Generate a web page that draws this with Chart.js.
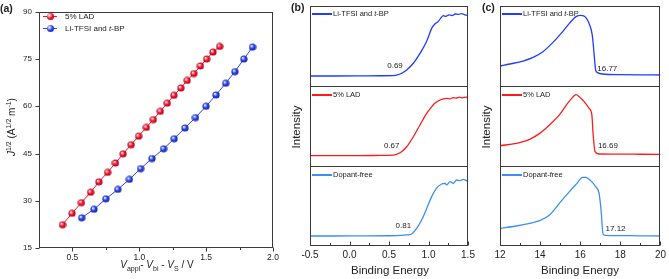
<!DOCTYPE html>
<html><head><meta charset="utf-8">
<script src="https://cdn.jsdelivr.net/npm/chart.js@4.4.1/dist/chart.umd.min.js"></script>
<style>
html,body{margin:0;padding:0;background:#fff;}
body{width:669px;height:279px;position:relative;overflow:hidden;font-family:'Liberation Sans',Arial,sans-serif;color:#222;}
canvas{position:absolute;top:0;}
.t{position:absolute;white-space:nowrap;line-height:1;}
.c{transform:translate(-50%,-50%);}
.r{transform:translate(-50%,-50%) rotate(-90deg);}
.lab{font-weight:bold;font-size:10.5px;}
.ttl{font-size:11.5px;}
.leg{font-size:7.5px;transform:translateY(-50%);}
.ln{position:absolute;height:1.5px;}
.mk{position:absolute;width:7px;height:7px;border-radius:50%;}
sup,sub{font-size:70%;line-height:0;}
</style></head><body>
<canvas id="ca" width="290" height="279" style="left:0"></canvas>
<canvas id="cb" width="190" height="279" style="left:290px"></canvas>
<canvas id="cc" width="189" height="279" style="left:480px"></canvas>

<div class="t lab" style="left:0;top:3px">(a)</div>
<div class="t lab" style="left:291px;top:2px">(b)</div>
<div class="t lab" style="left:482px;top:2px">(c)</div>

<div class="t r" style="left:12px;top:127px;font-size:10px"><i>J</i><sup>1/2</sup> (A<sup>1/2</sup> m<sup>-1</sup>)</div>
<div class="t c" style="left:157px;top:265px;font-size:10px"><i>V</i><sub>appl</sub>- <i>V</i><sub>bi</sub> - <i>V</i><sub>S</sub> / V</div>
<div class="t r ttl" style="left:297px;top:127px">Intensity</div>
<div class="t r ttl" style="left:487px;top:127px">Intensity</div>
<div class="t c ttl" style="left:390px;top:271px">Binding Energy</div>
<div class="t c ttl" style="left:580px;top:271px">Binding Energy</div>

<!-- legend panel a -->
<div class="ln" style="left:43px;top:16px;width:14px;height:1px;background:#f5142c"></div>
<div class="mk" style="left:47px;top:13px;background:radial-gradient(circle at 35% 35%,#fff 0,#f5142c 45%,#a0001a 100%)"></div>
<div class="t leg" style="left:65px;top:17px;font-size:8px">5% LAD</div>
<div class="ln" style="left:43px;top:28px;width:14px;height:1px;background:#2b44f0"></div>
<div class="mk" style="left:47px;top:25px;background:radial-gradient(circle at 35% 35%,#fff 0,#2b44f0 45%,#101e90 100%)"></div>
<div class="t leg" style="left:65px;top:29px;font-size:8px">Li-TFSI and <i>t</i>-BP</div>

<!-- legend panel b -->
<div class="ln" style="left:312px;top:13px;width:20px;background:#1f3cff"></div>
<div class="t leg" style="left:333px;top:14px">Li-TFSI and <i>t</i>-BP</div>
<div class="ln" style="left:312px;top:94px;width:20px;background:#ff1a1a"></div>
<div class="t leg" style="left:333px;top:95px">5% LAD</div>
<div class="ln" style="left:312px;top:174px;width:20px;background:#3b8ff5"></div>
<div class="t leg" style="left:333px;top:175px">Dopant-free</div>

<!-- legend panel c -->
<div class="ln" style="left:502px;top:13px;width:20px;background:#1f3cff"></div>
<div class="t leg" style="left:523px;top:14px">Li-TFSI and <i>t</i>-BP</div>
<div class="ln" style="left:502px;top:94px;width:20px;background:#ff1a1a"></div>
<div class="t leg" style="left:523px;top:95px">5% LAD</div>
<div class="ln" style="left:502px;top:174px;width:20px;background:#3b8ff5"></div>
<div class="t leg" style="left:523px;top:175px">Dopant-free</div>

<script>
// ---------- Panel (a): J^1/2 vs V ----------
const aV_LAD  = [0.426,0.497,0.567,0.636,0.698,0.763,0.822,0.879,0.939,0.995,1.053,1.105,1.157,1.209,1.259,1.311,1.358,1.408,1.457,1.504,1.551,1.601];
const aJ_LAD  = [22.4,26.0,29.4,32.7,36.0,39.0,42.0,44.9,47.8,50.5,53.3,55.8,58.4,61.0,63.5,65.8,68.2,70.4,72.8,75.0,77.2,79.0];
const aV_TFSI = [0.569,0.661,0.750,0.839,0.926,1.010,1.095,1.182,1.261,1.341,1.420,1.499,1.574,1.646,1.715,1.782,1.847];
const aJ_TFSI = [24.6,27.3,30.6,33.6,36.8,40.2,43.4,46.5,49.7,53.1,56.4,60.0,63.6,67.3,71.0,75.0,78.8];
const aXTicks = [0.5,1.0,1.5,2.0];
const aYTicks = [15,30,45,60,75,90];

// ---------- Panel (b): valence-band edge ----------
const bE_TFSI = [-0.5,-0.2,0.1,0.4,0.555,0.64,0.724,0.808,0.892,0.977,1.04,1.08,1.12,1.19,1.22,1.26,1.30,1.34,1.38,1.42,1.46,1.50];
const bI_TFSI = [12.5,12.5,12.6,12.8,13.0,15.0,20.0,28.4,40.8,56.0,72.0,77.5,80.4,87.9,87.0,89.0,88.0,90.0,89.5,90.5,89.0,88.5];
const bE_LAD  = [-0.5,-0.2,0.1,0.4,0.555,0.64,0.724,0.808,0.892,0.977,1.04,1.08,1.146,1.23,1.27,1.31,1.35,1.39,1.43,1.47,1.50];
const bI_LAD  = [12.9,12.9,13.0,13.2,13.6,16.6,24.1,36.6,51.3,65.8,74.0,78.3,82.5,84.6,84.0,85.5,84.8,86.0,85.2,86.2,85.5];
const bE_FREE = [-0.5,-0.2,0.1,0.5,0.65,0.724,0.787,0.85,0.913,0.977,1.04,1.10,1.167,1.209,1.23,1.272,1.314,1.357,1.40,1.44,1.48,1.50];
const bI_FREE = [12.5,12.5,12.6,12.8,13.2,13.8,15.0,22.0,32.5,47.0,61.7,72.0,77.5,78.3,76.3,80.4,78.3,82.5,81.7,83.3,81.7,80.8];
const bTicks = [-0.5,0.0,0.5,1.0,1.5];
const bNotes = [{x:0.576,y:25,panel:2,text:'0.69'},{x:0.534,y:25.4,panel:1,text:'0.67'},{x:0.681,y:25,panel:0,text:'0.81'}];

// ---------- Panel (c): secondary-electron cutoff ----------
const cE_TFSI = [12,12.49,13.15,13.65,14.14,14.63,15.05,15.46,15.79,16.03,16.28,16.44,16.55,16.61,16.69,16.77,16.86,17.1,18,19,20];
const cI_TFSI = [25,27.5,31.2,35.8,42.9,54.2,65.8,78.3,86.7,88.3,85.8,78.3,70.0,61.7,40.8,20.0,16.7,15.0,14.2,13.9,13.75];
const cE_LAD  = [12,12.82,13.48,13.98,14.47,14.96,15.37,15.62,15.79,15.95,16.2,16.44,16.58,16.64,16.74,16.94,18,19,20];
const cI_LAD  = [25.4,28.3,33.3,40.8,51.3,63.8,78.3,85.8,89.2,86.7,80.4,72.1,63.8,40.8,17.9,15.0,14.8,14.7,14.6];
const cE_FREE = [12,12.82,13.48,13.98,14.47,14.96,15.46,15.87,16.11,16.28,16.52,16.77,16.94,17.04,17.14,17.27,18,19,20];
const cI_FREE = [22.1,25.0,28.3,31.7,38.8,53.3,67.9,79.2,85.8,85.8,81.7,74.2,65.8,45.0,15.0,13.3,13.0,12.7,12.5];
const cTicks = [12,14,16,18,20];
const cNotes = [{x:17.35,y:22,panel:2,text:'16.77'},{x:17.38,y:25.4,panel:1,text:'16.69'},{x:17.76,y:20.9,panel:0,text:'17.12'}];

const RED='#f5142c', BLUE='#2b44f0';
const C_TFSI='#1f3cff', C_LAD='#ff1a1a', C_FREE='#3b8ff5';
const SPAN=100; // height (in intensity units) of one stacked sub-panel

Chart.defaults.font.family="'Liberation Sans', Arial, sans-serif";
Chart.defaults.color='#222';

function ball(color, dark){
  const c=document.createElement('canvas'); c.width=8; c.height=8;
  const g=c.getContext('2d');
  const gr=g.createRadialGradient(2.8,2.8,0.3,4,4,4);
  gr.addColorStop(0,'#ffffff'); gr.addColorStop(0.45,color); gr.addColorStop(1,dark);
  g.fillStyle=gr; g.beginPath(); g.arc(4,4,3.6,0,Math.PI*2); g.fill();
  return c;
}
function pts(xs,ys,off){ return xs.map((x,i)=>({x:x,y:ys[i]+(off||0)})); }

const framePlugin={
  id:'frame',
  afterDraw(chart,args,o){
    const {ctx,chartArea:a,scales}=chart;
    const L=Math.round(a.left)+0.5,R=Math.round(a.right)-0.5,T=Math.round(a.top)+0.5,B=Math.round(a.bottom)-0.5;
    ctx.save();
    ctx.strokeStyle='#3a3a3a'; ctx.lineWidth=1;
    const line=(x1,y1,x2,y2)=>{ctx.beginPath();ctx.moveTo(x1,y1);ctx.lineTo(x2,y2);ctx.stroke();};
    ctx.strokeRect(L,T,R-L,B-T);
    (o.dividers||[]).forEach(v=>{const y=Math.round(scales.y.getPixelForValue(v))+0.5; line(L,y,R,y);});
    const d=o.xDir||1;
    (o.xMajor||[]).forEach(v=>{const x=Math.round(scales.x.getPixelForValue(v))+0.5; line(x,B,x,B+d*4);});
    (o.xMinor||[]).forEach(v=>{const x=Math.round(scales.x.getPixelForValue(v))+0.5; line(x,B,x,B+d*2.5);});
    (o.yMajor||[]).forEach(v=>{const y=Math.round(scales.y.getPixelForValue(v))+0.5; line(L,y,L-4,y);});
    ctx.fillStyle='#222'; ctx.font="8px 'Liberation Sans', Arial, sans-serif";
    ctx.textAlign='center'; ctx.textBaseline='middle';
    (o.notes||[]).forEach(n=>{ctx.fillText(n.text,scales.x.getPixelForValue(n.x),scales.y.getPixelForValue(n.y+n.panel*SPAN));});
    ctx.restore();
  }
};

const noGrid={display:false,drawTicks:false,tickLength:0};

// Panel a
new Chart(document.getElementById('ca'),{
  type:'line',
  data:{datasets:[
    {data:pts(aV_LAD,aJ_LAD),borderColor:RED,borderWidth:1,pointStyle:ball(RED,'#a0001a'),tension:0},
    {data:pts(aV_TFSI,aJ_TFSI),borderColor:BLUE,borderWidth:1,pointStyle:ball(BLUE,'#101e90'),tension:0}
  ]},
  options:{responsive:false,animation:false,
    layout:{padding:{left:0,top:8,right:17,bottom:0}},
    plugins:{legend:{display:false},tooltip:{enabled:false},
      frame:{xMajor:aXTicks,xMinor:[0.75,1.25,1.75],xDir:1,yMajor:aYTicks}},
    scales:{
      x:{type:'linear',min:0.25,max:2.0,grid:noGrid,border:{display:false},
        afterBuildTicks:s=>{s.ticks=aXTicks.map(v=>({value:v}));},
        ticks:{autoSkip:false,maxRotation:0,padding:5,font:{size:8.5},callback:v=>v.toFixed(1)},
        afterFit:s=>{s.height=31;}},
      y:{min:15,max:90,grid:noGrid,border:{display:false},
        afterBuildTicks:s=>{s.ticks=aYTicks.map(v=>({value:v}));},
        ticks:{padding:7,font:{size:8}},
        afterFit:s=>{s.width=39;}}
    }},
  plugins:[framePlugin]
});

function spectrum(id,E1,I1,E2,I2,E3,I3,xmin,xmax,ticks,minor,notes,padR,fmt){
  return new Chart(document.getElementById(id),{
    type:'line',
    data:{datasets:[
      {data:pts(E1,I1,2*SPAN),borderColor:C_TFSI},
      {data:pts(E2,I2,1*SPAN),borderColor:C_LAD},
      {data:pts(E3,I3,0),borderColor:C_FREE}
    ].map(d=>Object.assign(d,{borderWidth:1.3,pointRadius:0,cubicInterpolationMode:'monotone'}))},
    options:{responsive:false,animation:false,
      layout:{padding:{left:20,top:6,right:padR,bottom:0}},
      plugins:{legend:{display:false},tooltip:{enabled:false},
        frame:{dividers:[SPAN,2*SPAN],xMajor:ticks,xMinor:minor,xDir:-1,notes:notes}},
      scales:{
        x:{type:'linear',min:xmin,max:xmax,grid:noGrid,border:{display:false},
          afterBuildTicks:s=>{s.ticks=ticks.map(v=>({value:v}));},
          ticks:{autoSkip:false,maxRotation:0,padding:3,font:{size:10},callback:fmt},
          afterFit:s=>{s.height=33;}},
        y:{display:false,min:0,max:3*SPAN}
      }},
    plugins:[framePlugin]
  });
}
spectrum('cb',bE_TFSI,bI_TFSI,bE_LAD,bI_LAD,bE_FREE,bI_FREE,-0.5,1.5,bTicks,[-0.25,0.25,0.75,1.25],bNotes,12,v=>v.toFixed(1));
spectrum('cc',cE_TFSI,cI_TFSI,cE_LAD,cI_LAD,cE_FREE,cI_FREE,12,20,cTicks,[13,15,17,19],cNotes,7,v=>String(v));
</script>
</body></html>
